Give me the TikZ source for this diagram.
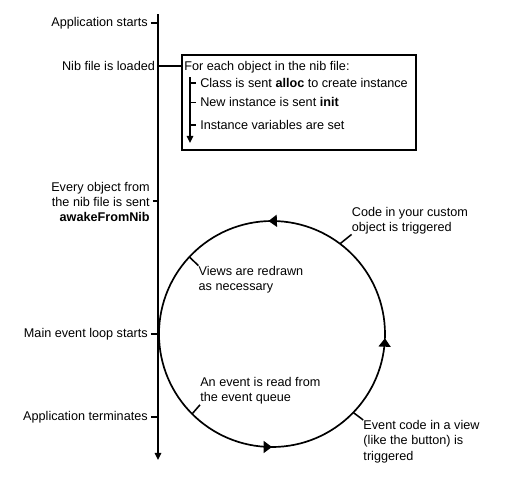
\documentclass[tikz,border=0pt]{standalone}
\usepackage{fontspec}
\setmainfont{Liberation Sans}
\usetikzlibrary{arrows.meta,decorations.markings}

\begin{document}
\begin{tikzpicture}[
  every node/.style={font=\fontsize{9}{11}\selectfont, inner sep=0pt},
  leftlabel/.style={anchor=east, align=right, inner xsep=2pt},
  itemlabel/.style={anchor=west, inner xsep=0.1cm},
  looplabel/.style={align=left},
  tickline/.style={line width=1.1pt},
  nibbox/.style={draw, line width=1.3pt, minimum width=5.85cm, minimum height=2.375cm},
  loopline/.style={line width=1.2pt, postaction={decorate}, decoration={markings,
    mark=at position 0.255 with {\arrow{Triangle[length=6pt,width=8.5pt]}},
    mark=at position 0.75 with {\arrow{Triangle[length=6pt,width=8.5pt]}},
    mark=at position 0.994 with {\arrow{Triangle[length=6pt,width=8.5pt]}}}},
  >={Triangle[length=5pt,width=4.5pt]}
]
\useasboundingbox (0,0) rectangle (12.725,-12);

% Timeline
\coordinate (tstart) at (3.95,-0.35);
\coordinate (tend) at (3.95,-11.5);
\draw[->, tickline] (tstart) -- (tend);

\coordinate (t1) at (3.95,-0.575);
\coordinate (t2) at (3.95,-1.65);
\coordinate (t3) at (3.95,-5.03);
\coordinate (t4) at (3.95,-8.35);
\coordinate (t5) at (3.95,-10.425);

% Events on the timeline
\node[leftlabel] (appstart) at (3.77,-0.575) {Application starts};
\node[leftlabel] (nibload) at (3.95,-1.65) {Nib file is loaded};
\node[leftlabel] (awake) at (3.82,-5.05) {Every object from\\the nib file is sent\\\textbf{awakeFromNib}};
\node[leftlabel] (mainloop) at (3.77,-8.35) {Main event loop starts};
\node[leftlabel] (append) at (3.77,-10.425) {Application terminates};

\draw[tickline] (appstart.east) -- (t1);
\draw[tickline] (awake.east |- t3) -- (t3);
\draw[tickline] (mainloop.east) -- (t4);
\draw[tickline] (append.east) -- (t5);

% Nib loading box
\node[nibbox] (box) at (7.475,-2.5625) {};
\draw[tickline] (t2) -- (box.west |- t2);
\node[anchor=west] (foreach) at (4.6,-1.675) {For each object in the nib file:};
\node[itemlabel] (alloc) at (4.9,-2.075) {Class is sent \textbf{alloc} to create instance};
\node[itemlabel] (init) at (4.9,-2.56) {New instance is sent \textbf{init}};
\node[itemlabel] (ivars) at (4.9,-3.125) {Instance variables are set};

\coordinate (bstart) at (4.75,-1.925);
\coordinate (bend) at (4.75,-3.575);
\draw[->, tickline] (bstart) -- (bend);
\draw[tickline] (bstart |- alloc) -- (alloc.west);
\draw[tickline] (bstart |- init) -- (init.west);
\draw[tickline] (bstart |- ivars) -- (ivars.west);

% Event loop
\coordinate (loopc) at (6.8,-8.35);
\draw[loopline] (loopc) circle (2.825);

\coordinate (c1) at ([shift={(53:2.825)}]loopc);
\coordinate (c2) at ([shift={(137:2.825)}]loopc);
\coordinate (c3) at ([shift={(225:2.825)}]loopc);
\coordinate (c4) at ([shift={(-44:2.825)}]loopc);

\node[looplabel, anchor=south west] (custom) at (8.79,-5.86) {Code in your custom\\object is triggered};
\node[looplabel, anchor=north west] (views) at (4.96,-6.64) {Views are redrawn\\as necessary};
\node[looplabel, anchor=south west] (readev) at (5.0,-10.12) {An event is read from\\the event queue};
\node[looplabel, anchor=north west] (viewcode) at (9.08,-10.5) {Event code in a view\\(like the button) is\\triggered};

\draw[tickline] (c1) -- (custom.south west);
\draw[tickline] (c2) -- (views.north west);
\draw[tickline] (c3) -- (readev.south west);
\draw[tickline] (c4) -- (viewcode.north west);
\end{tikzpicture}
\end{document}
